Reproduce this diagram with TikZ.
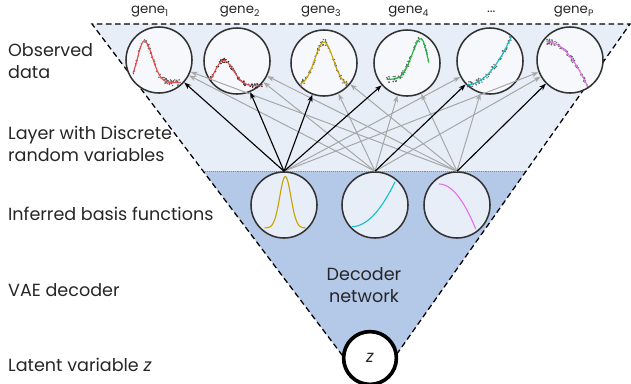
\documentclass[tikz,border=0pt]{standalone}
\usepackage{fontspec}
\setmainfont{Poppins}
\usetikzlibrary{arrows.meta, positioning, calc}

\definecolor{upfill}{HTML}{E8EEF8}
\definecolor{lowfill}{HTML}{B4C8E8}
\definecolor{ink}{HTML}{262626}
\definecolor{rim}{HTML}{333333}
\definecolor{cred}{HTML}{F04A48}
\definecolor{cgold}{HTML}{C9A200}
\definecolor{cgreen}{HTML}{1DB83C}
\definecolor{ccyan}{HTML}{12C2C8}
\definecolor{cpink}{HTML}{E272E6}

\begin{document}
\begin{tikzpicture}[
    >={Stealth[length=5pt,width=3.6pt]},
    font=\fontsize{12.5}{15.6}\selectfont,
    text=ink,
    gn/.style={draw=rim, circle, line width=1.1pt, minimum size=1.65cm,
               fill=white!60!upfill},
    bn/.style={draw=rim, circle, line width=1.1pt, minimum size=1.65cm,
               fill=upfill},
    lbl/.style={font=\fontsize{9.5}{10}\selectfont},
    side/.style={anchor=west, align=left},
    strong/.style={->, black, line width=0.8pt},
    weak/.style={->, black!35, line width=0.7pt},
    curve/.style={line width=0.8pt, smooth, samples=40},
    dot/.style={fill=black!62},
    declare function={
      fa(\u)=-0.69+1.27*exp(-((\u+0.45)^2)/(2*(((\u<-0.45)?0.2:0.25)^2)));
      fb(\u)=-0.76+0.78*exp(-((\u+0.41)^2)/(2*(((\u<-0.41)?0.25:0.3)^2)));
      fc(\u)=-0.68+1.32*exp(-((\u)^2)/(2*0.28^2));
      fd(\u)=-0.5+1.24*exp(-((\u-0.43)^2)/(2*(((\u<0.43)?0.28:0.18)^2)));
      fe(\u)=-0.72+1.46*((\u+0.69)/1.34)^2;
      fp(\u)=0.56-1.36*((\u+0.72)/1.25)^2;
    },
]
\useasboundingbox (0,0) rectangle (15.775,-9.575);

% === Funnel ===
\coordinate (tl) at (2.3,-0.6);
\coordinate (tr) at (15.75,-0.6);
\coordinate (apex) at (9.25,-9.8);
\coordinate (ml) at ($(tl)!0.3995!(apex)$);
\coordinate (mr) at ($(tr)!0.3995!(apex)$);
\fill[upfill] (tl) -- (tr) -- (mr) -- (ml) -- cycle;
\fill[lowfill] (ml) -- (mr) -- (apex) -- cycle;
\draw[black!45, line width=0.4pt, densely dotted] (ml) -- (mr);
\draw[dashed, line width=0.9pt, dash pattern=on 4pt off 2.5pt] (apex) -- (tl) -- (tr) -- (apex);

% === Side labels ===
\node[side] (obs) at (0.08,-1.525) {Observed\\data};
\node[side] (lay) at (0.08,-3.59) {Layer with Discrete\\random variables};
\node[side] (inf) at (0.08,-5.35) {Inferred basis functions};
\node[side] (vae) at (0.08,-7.25) {VAE decoder};
\node[side] (lat) at (0.08,-9.125) {Latent variable \textit{z}};
\node[align=center] (dec) at (9.1,-7.125) {Decoder\\network};

% === Observed genes (top row) ===
\node[gn] (g1) at (3.975,-1.5) {};
\node[gn] (g2) at (5.925,-1.525) {};
\node[gn] (g3) at (8.1,-1.575) {};
\node[gn] (g4) at (10.175,-1.575) {};
\node[gn] (g5) at (12.25,-1.525) {};
\node[gn] (gP) at (14.25,-1.5) {};

\node[lbl] (l1) at (3.75,-0.3) {gene\textsubscript{1}};
\node[lbl] (l2) at (6.0,-0.3) {gene\textsubscript{2}};
\node[lbl] (l3) at (8.03,-0.3) {gene\textsubscript{3}};
\node[lbl] (l4) at (10.22,-0.3) {gene\textsubscript{4}};
\node[lbl] (l5) at (12.28,-0.3) {...};
\node[lbl] (lP) at (14.35,-0.3) {gene\textsubscript{P}};

% === Basis functions (middle row) ===
\node[bn] (b1) at (7.1,-5.125) {};
\node[bn] (b2) at (9.375,-5.125) {};
\node[bn] (b3) at (11.425,-5.125) {};

% === Latent variable ===
\node[draw=black, circle, line width=2.6pt, fill=white, minimum size=1.32cm,
      font=\fontsize{12}{13}\selectfont\itshape] (z) at (9.25,-8.95) {z};

% === Data in the gene circles ===
\begin{scope}[shift={(g1.center)}, x=0.82cm, y=0.82cm]
  \pgfmathsetseed{11}
  \foreach \i in {1,...,80} {
    \pgfmathsetmacro\u{-0.79+1.45*rnd^0.7}
    \fill[dot] (\u, {fa(\u)+0.09*rand}) circle (0.55pt);
  }
  \draw[curve, cred] plot[domain=-0.79:0.64] (\x, {fa(\x)});
\end{scope}
\begin{scope}[shift={(g2.center)}, x=0.82cm, y=0.82cm]
  \pgfmathsetseed{23}
  \foreach \i in {1,...,75} {
    \pgfmathsetmacro\u{-0.82+1.59*rnd}
    \fill[black!85] (\u, {fb(\u)+0.06*rand}) circle (0.6pt);
  }
  \draw[curve, cred] plot[domain=-0.82:0.77] (\x, {fb(\x)});
\end{scope}
\begin{scope}[shift={(g3.center)}, x=0.82cm, y=0.82cm]
  \pgfmathsetseed{37}
  \foreach \i in {1,...,75} {
    \pgfmathsetmacro\u{-0.72+1.44*rnd}
    \fill[dot] (\u, {fc(\u)+0.09*rand}) circle (0.55pt);
  }
  \draw[curve, cgold] plot[domain=-0.72:0.72] (\x, {fc(\x)});
\end{scope}
\begin{scope}[shift={(g4.center)}, x=0.82cm, y=0.82cm]
  \pgfmathsetseed{41}
  \foreach \i in {1,...,75} {
    \pgfmathsetmacro\u{-0.62+1.29*rnd}
    \fill[dot] (\u, {fd(\u)+0.09*rand}) circle (0.55pt);
  }
  \draw[curve, cgreen] plot[domain=-0.62:0.67] (\x, {fd(\x)});
\end{scope}
\begin{scope}[shift={(g5.center)}, x=0.82cm, y=0.82cm]
  \pgfmathsetseed{53}
  \foreach \i in {1,...,75} {
    \pgfmathsetmacro\u{-0.69+1.34*rnd}
    \fill[dot] (\u, {fe(\u)+0.09*rand}) circle (0.55pt);
  }
  \draw[curve, ccyan] plot[domain=-0.69:0.65] (\x, {fe(\x)});
\end{scope}
\begin{scope}[shift={(gP.center)}, x=0.82cm, y=0.82cm]
  \pgfmathsetseed{67}
  \foreach \i in {1,...,80} {
    \pgfmathsetmacro\u{-0.72+1.25*rnd}
    \fill[dot] (\u, {fp(\u)+0.08*rand}) circle (0.55pt);
  }
  \draw[curve, cpink] plot[domain=-0.72:0.53] (\x, {fp(\x)});
\end{scope}

% === Basis curves ===
\begin{scope}[shift={(b1.center)}, x=0.82cm, y=0.82cm]
  \draw[curve, cgold] plot[domain=-0.6:0.66] (\x, {-0.7+1.57*exp(-((\x-0.04)^2)/(2*0.17^2))});
\end{scope}
\begin{scope}[shift={(b2.center)}, x=0.82cm, y=0.82cm]
  \draw[curve, ccyan] plot[domain=-0.71:0.61] (\x, {-0.66+1.37*((\x+0.71)/1.32)^2});
\end{scope}
\begin{scope}[shift={(b3.center)}, x=0.82cm, y=0.82cm]
  \draw[curve, cpink] plot[domain=-0.55:0.57] (\x, {0.64-1.37*((\x+0.55)/1.12)^2});
\end{scope}

% === Edges: weak links first ===
% b1 -> g5, gP
\draw[weak] (b1.north) -- (g5);
\draw[weak] (b1.north) -- (gP);
% b2 -> g1, g2, g3, g4, gP
\draw[weak] (b2.north) -- (g1);
\draw[weak] (b2.north) -- (g2);
\draw[weak] (b2.north) -- (g3);
\draw[weak] (b2.north) -- (g4);
\draw[weak] (b2.north) -- (gP);
% b3 -> g1, g2, g3, g4, g5
\draw[weak] (b3.north) -- (g1);
\draw[weak] (b3.north) -- (g2);
\draw[weak] (b3.north) -- (g3);
\draw[weak] (b3.north) -- (g4);
\draw[weak] (b3.north) -- (g5);

% === Edges: strong links ===
\draw[strong] (b1.north) -- (g1);
\draw[strong] (b1.north) -- (g2);
\draw[strong] (b1.north) -- (g3);
\draw[strong] (b1.north) -- (g4);
\draw[strong] (b2.north) -- (g5);
\draw[strong] (b3.north) -- (gP);

\end{tikzpicture}
\end{document}
